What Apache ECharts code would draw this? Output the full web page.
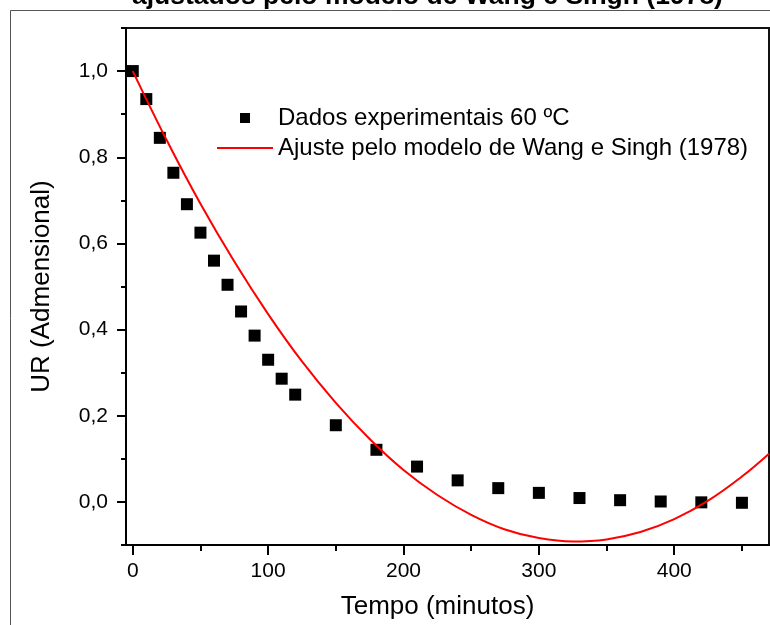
<!DOCTYPE html>
<html>
<head>
<meta charset="utf-8">
<script src="https://cdn.jsdelivr.net/npm/echarts@6/dist/echarts.min.js"></script>
<style>
  html, body { margin: 0; padding: 0; background: #fff; }
  #chart { width: 770px; height: 625px; }
</style>
</head>
<body>
<div id="chart"></div>
<script>
const titleText = 'ajustados pelo modelo de Wang e Singh (1978)'
const expName = 'Dados experimentais 60 ºC'
const fitName = 'Ajuste pelo modelo de Wang e Singh (1978)'

// pontos experimentais (tempo em minutos, UR)
const tempoExp = [0, 10, 20, 30, 40, 50, 60, 70, 80, 90, 100, 110, 120, 150, 180, 210, 240, 270, 300, 330, 360, 390, 420, 450]
const urExp = [1.0, 0.935, 0.845, 0.764, 0.691, 0.625, 0.560, 0.504, 0.442, 0.386, 0.330, 0.286, 0.249, 0.178, 0.121, 0.082, 0.050, 0.032, 0.021, 0.009, 0.004, 0.001, -0.001, -0.002]

// curva ajustada
const tempoAjuste = [0, 25, 50, 75, 100, 125, 150, 175, 200, 225, 250, 275, 300, 325, 350, 375, 400, 425, 450, 470]
const urAjuste = [1.0, 0.840, 0.692, 0.558, 0.436, 0.326, 0.230, 0.146, 0.074, 0.016, -0.030, -0.064, -0.084, -0.092, -0.087, -0.070, -0.040, 0.003, 0.059, 0.112]

// marcas dos eixos
const xMajor = [0, 100, 200, 300, 400]
const xMinor = [50, 150, 250, 350, 450]
const yMajor = [0, 0.2, 0.4, 0.6, 0.8, 1.0]
const yMinor = [-0.1, 0.1, 0.3, 0.5, 0.7, 0.9, 1.1]

const font = 'Liberation Sans'
const chart = echarts.init(document.getElementById('chart'))

const option = {
  animation: false,
  backgroundColor: '#fff',
  title: {
    text: titleText,
    left: 132,
    top: -17,
    padding: 0,
    textStyle: { fontFamily: font, fontSize: 26.5, fontWeight: 'bold', color: '#000' }
  },
  graphic: [{
    type: 'rect',
    shape: { x: 10.5, y: 10.5, width: 900, height: 800 },
    style: { fill: 'none', stroke: '#555', lineWidth: 1 },
    silent: true
  }],
  grid: {
    left: 126,
    top: 28,
    width: 643,
    bottom: 79,
    show: true,
    borderColor: '#111',
    borderWidth: 2
  },
  legend: {
    orient: 'vertical',
    left: 217,
    top: 106,
    itemWidth: 56,
    itemHeight: 10,
    itemGap: 6,
    padding: 0,
    textStyle: { fontFamily: font, fontSize: 24, color: '#000' },
    data: [
      { name: expName, icon: 'path://M0,0L10,0L10,10L0,10Z' },
      { name: fitName, icon: 'path://M0,0L56,0L56,2L0,2Z' }
    ]
  },
  xAxis: [{
    type: 'value',
    min: -5,
    max: 470,
    position: 'bottom',
    axisLine: { onZero: false, lineStyle: { color: '#000', width: 2 } },
    axisTick: { customValues: xMajor, length: 10, lineStyle: { color: '#000', width: 2 } },
    axisLabel: { customValues: xMajor, margin: 16, fontFamily: font, fontSize: 21, color: '#000' },
    splitLine: { show: false },
    name: 'Tempo (minutos)',
    nameLocation: 'middle',
    nameGap: 49,
    nameTextStyle: { fontFamily: font, fontSize: 26, color: '#000', padding: [0, 20, 0, 0] }
  }, {
    type: 'value',
    min: -5,
    max: 470,
    position: 'bottom',
    axisLine: { show: false, onZero: false },
    axisTick: { customValues: xMinor, length: 6, lineStyle: { color: '#000', width: 2 } },
    axisLabel: { show: false },
    splitLine: { show: false }
  }],
  yAxis: [{
    type: 'value',
    min: -0.1,
    max: 1.1,
    position: 'left',
    axisLine: { show: true, onZero: false, lineStyle: { color: '#000', width: 2 } },
    axisTick: { show: true, customValues: yMajor, length: 9, lineStyle: { color: '#000', width: 2 } },
    axisLabel: {
      customValues: yMajor,
      margin: 18,
      fontFamily: font,
      fontSize: 21,
      color: '#000',
      formatter: v => v.toFixed(1).replace('.', ',')
    },
    splitLine: { show: false },
    name: 'UR (Admensional)',
    nameLocation: 'middle',
    nameGap: 71,
    nameTextStyle: { fontFamily: font, fontSize: 26, color: '#000' }
  }, {
    type: 'value',
    min: -0.1,
    max: 1.1,
    position: 'left',
    axisLine: { show: false, onZero: false },
    axisTick: { show: true, customValues: yMinor, length: 5, lineStyle: { color: '#000', width: 2 } },
    axisLabel: { show: false },
    splitLine: { show: false }
  }],
  series: [{
    name: expName,
    type: 'scatter',
    symbol: 'rect',
    symbolSize: 12,
    itemStyle: { color: '#000', opacity: 1 },
    data: tempoExp.map((t, i) => [t, urExp[i]]),
    z: 2
  }, {
    name: fitName,
    type: 'line',
    symbol: 'none',
    smooth: 0.4,
    lineStyle: { color: '#ff0000', width: 2 },
    itemStyle: { color: '#ff0000' },
    data: tempoAjuste.map((t, i) => [t, urAjuste[i]]),
    z: 3
  }]
}

chart.setOption(option)
</script>
</body>
</html>
